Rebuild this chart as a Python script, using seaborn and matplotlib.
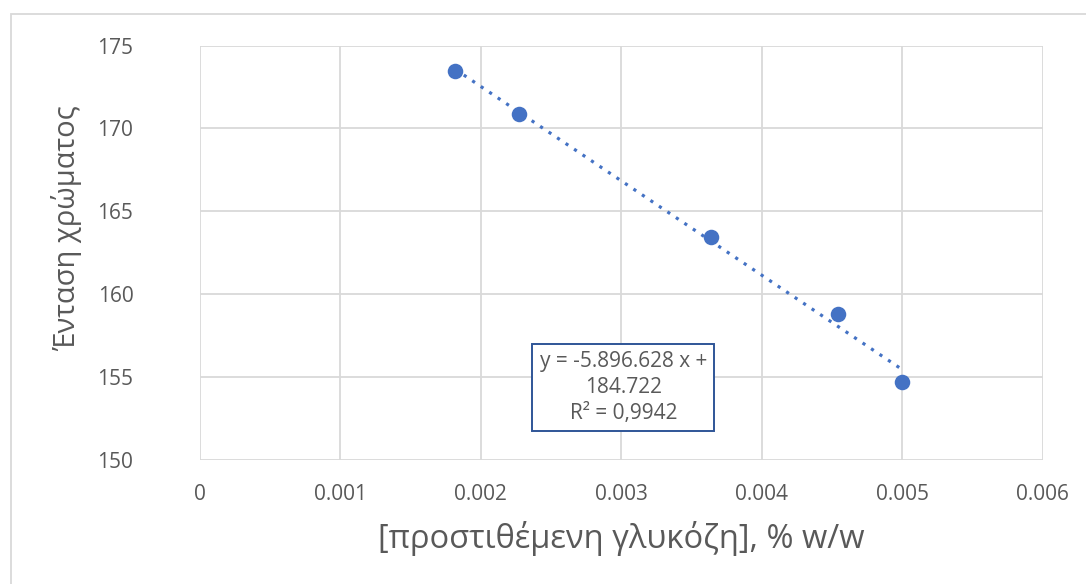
import numpy as np
import pandas as pd
import matplotlib
matplotlib.use("Agg")
import matplotlib.pyplot as plt
import seaborn as sns
from matplotlib.patches import Rectangle

# data
glucose = [0.02 / 11, 0.025 / 11, 0.04 / 11, 0.05 / 11, 0.055 / 11]
intensity = [173.45, 170.85, 163.45, 158.8, 154.65]
x_ticks = [0, 0.001, 0.002, 0.003, 0.004, 0.005, 0.006]
x_tick_labels = ["0", "0.001", "0.002", "0.003", "0.004", "0.005", "0.006"]
y_ticks = [150, 155, 160, 165, 170, 175]
eq_text = "y = -5.896.628 x +\n184.722\nR² = 0,9942"

df = pd.DataFrame({"glucose": glucose, "intensity": intensity})

sns.set_style("white")
plt.rcParams["font.family"] = ["Open Sans", "DejaVu Sans"]

blue = "#4472C4"
grey_text = "#595959"
grid_col = "#D9D9D9"

fig = plt.figure(figsize=(10.86, 5.84), dpi=100)
ax = fig.add_axes([200 / 1086, 1 - 459.5 / 584, 842.5 / 1086, 414 / 584])

# outer chart frame (Excel chart area)
fig.patches.append(Rectangle((11 / 1086, -0.1), 1.2, 1 - 14.5 / 584 + 0.1,
                             transform=fig.transFigure, fill=False,
                             edgecolor="#D9D9D9", linewidth=1.3))

sns.regplot(data=df, x="glucose", y="intensity", ax=ax, ci=None,
            scatter_kws={"s": 125, "color": blue, "alpha": 1, "linewidths": 0, "zorder": 3},
            line_kws={"color": blue, "linestyle": (0, (1, 2.2)), "linewidth": 2.3, "zorder": 2})

ax.set_xlim(0, 0.006)
ax.set_ylim(150, 175)
ax.set_xticks(x_ticks)
ax.set_xticklabels(x_tick_labels)
ax.set_yticks(y_ticks)
ax.grid(True, color=grid_col, linewidth=1.3)
ax.set_axisbelow(True)
for s in ax.spines.values():
    s.set_visible(False)
ax.tick_params(length=0, labelsize=15, labelcolor=grey_text)
ax.tick_params(axis="x", pad=18)
ax.tick_params(axis="y", pad=48)

ax.set_xlabel("[προστιθέμενη γλυκόζη], % w/w", fontsize=23.5, color=grey_text)
ax.set_ylabel("Ένταση χρώματος", fontsize=21, color=grey_text)
ax.xaxis.set_label_coords(0.5, -(538 - 459.5) / 414, transform=ax.transAxes)
ax.yaxis.set_label_coords(-(200 - 67) / 842.5, (459.5 - 228) / 414)
ax.xaxis.label.set_va("center")
ax.yaxis.label.set_va("center")

ax.text(0.003015, 154.35, eq_text, fontsize=15, color=grey_text, ha="center", va="center",
        linespacing=1.3,
        bbox=dict(boxstyle="square,pad=0.35", facecolor="white", edgecolor="#2F5597", linewidth=1.4))

fig.savefig("out.png", dpi=100)
